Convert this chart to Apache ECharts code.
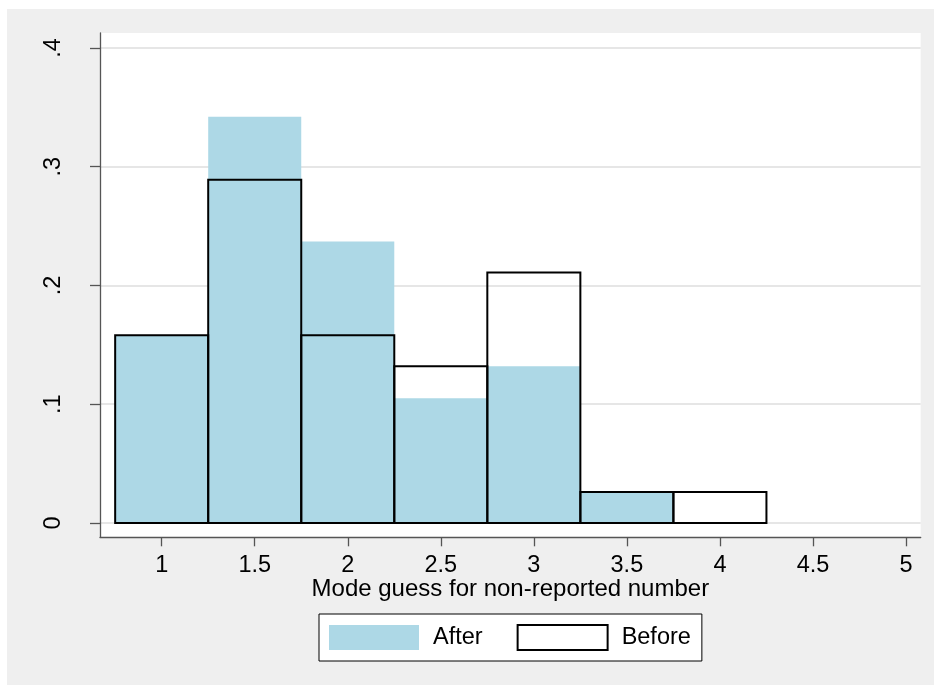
<!DOCTYPE html>
<html><head><meta charset="utf-8">
<script src="https://cdn.jsdelivr.net/npm/echarts@6/dist/echarts.min.js"></script>
<style>html,body{margin:0;padding:0;background:#fff}#c{width:934px;height:685px}</style>
</head><body><div id="c"></div>
<script>
const binStarts = [0.75, 1.25, 1.75, 2.25, 2.75, 3.25, 3.75];
const binWidth = 0.5;
const afterValues = [0.158, 0.342, 0.237, 0.105, 0.132, 0.026, 0];
const beforeValues = [0.158, 0.289, 0.158, 0.132, 0.211, 0.026, 0.026];
const xTicks = [1, 1.5, 2, 2.5, 3, 3.5, 4, 4.5, 5];
const yTicks = [0, 0.1, 0.2, 0.3, 0.4];
const xTitle = 'Mode guess for non-reported number';
const seriesNames = ['After', 'Before'];

const FONT = '"Liberation Sans", Arial, sans-serif';
function toData(vals){ return vals.map((v,i)=>[binStarts[i], binStarts[i]+binWidth, v]); }
function yLabel(v){ if(v===0) return '0'; return String(v).replace(/^0/, ''); }

function renderBar(style){
  return function(params, api){
    const x0 = api.value(0), x1 = api.value(1), v = api.value(2);
    if (!v) return null;
    const p0 = api.coord([x0, v]);
    const p1 = api.coord([x1, 0]);
    return {type:'rect', shape:{x:p0[0], y:p0[1], width:p1[0]-p0[0], height:p1[1]-p0[1]}, style: style};
  };
}

const chart = echarts.init(document.getElementById('c'), null, {renderer:'canvas'});
chart.setOption({
  animation:false,
  backgroundColor:'#ffffff',
  graphic:[{type:'rect', z:-10, silent:true, shape:{x:7, y:9, width:927, height:676}, style:{fill:'#efefef'}}],
  grid:{left:100, top:33, right:13.3, bottom:147.7, show:true, backgroundColor:'#ffffff', borderWidth:0},
  xAxis:{
    type:'value', min:0.6685, max:5.079,
    name:xTitle, nameLocation:'middle', nameGap:40, nameMoveOverlap:false,
    nameTextStyle:{fontFamily:FONT, fontSize:24, color:'#000'},
    axisLine:{show:true, onZero:false, lineStyle:{color:'#555', width:1.3}},
    axisTick:{show:true, length:9, lineStyle:{color:'#555', width:1.3}, customValues:xTicks},
    axisLabel:{fontFamily:FONT, fontSize:23.5, color:'#000', margin:16, customValues:xTicks, formatter:v=>String(v)},
    splitLine:{show:false}
  },
  yAxis:{
    type:'value', min:-0.01205, max:0.4126,
    axisLine:{show:true, onZero:false, lineStyle:{color:'#555', width:1.3}},
    axisTick:{show:true, length:10, lineStyle:{color:'#555', width:1.3}, customValues:yTicks},
    axisLabel:{fontFamily:FONT, fontSize:23.5, color:'#000', rotate:90, margin:34, customValues:yTicks, formatter:yLabel},
    splitLine:{show:true, lineStyle:{color:'#e6e6e6', width:2}}
  },
  legend:{
    left:319, top:614, orient:'horizontal',
    backgroundColor:'#fff', borderColor:'#000', borderWidth:1, borderRadius:0,
    padding:[10,11,10,10], itemWidth:90, itemHeight:25, itemGap:34,
    textStyle:{fontFamily:FONT, fontSize:23.5, color:'#000', padding:[0,0,0,9]},
    data:[
      {name:seriesNames[0], icon:'rect', itemStyle:{color:'#add8e6', borderWidth:0}},
      {name:seriesNames[1], icon:'rect', itemStyle:{color:'#ffffff', borderColor:'#000', borderWidth:2}}
    ]
  },
  series:[
    {name:seriesNames[0], type:'custom', renderItem:renderBar({fill:'#add8e6'}), data:toData(afterValues), encode:{x:[0,1], y:2}, z:2, itemStyle:{color:'#add8e6'}},
    {name:seriesNames[1], type:'custom', renderItem:renderBar({fill:'none', stroke:'#000', lineWidth:2}), data:toData(beforeValues), encode:{x:[0,1], y:2}, z:3, itemStyle:{color:'#ffffff', borderColor:'#000', borderWidth:2}}
  ]
});
</script></body></html>
